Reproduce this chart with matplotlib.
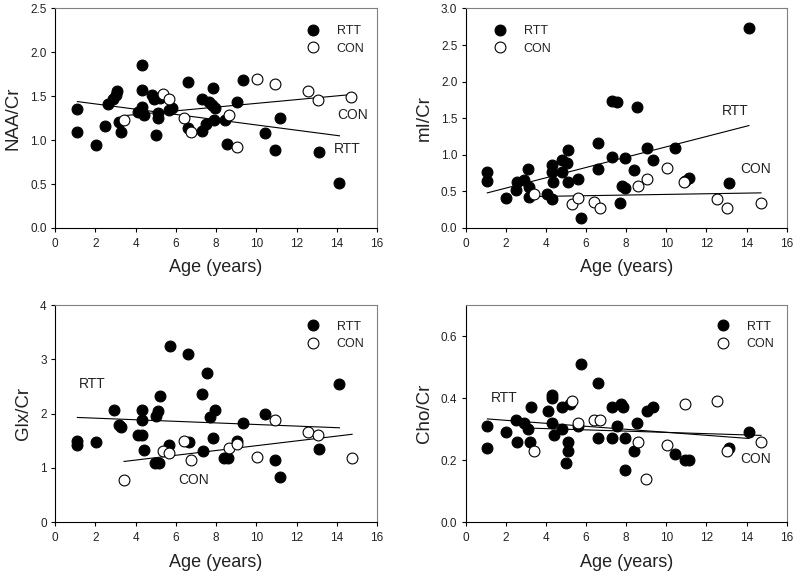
import numpy as np
import matplotlib
matplotlib.use("Agg")
import matplotlib.pyplot as plt

plt.rcParams['font.family'] = ['Liberation Sans', 'DejaVu Sans']

# ---- NAA/Cr ----
naa_rtt_x = [1.11, 1.11, 2.02, 2.5, 2.62, 2.9, 3.03, 3.1, 3.2, 3.27, 4.34, 4.3, 4.1, 4.34,
             4.43, 4.8, 4.9, 5.0, 5.14, 5.14, 5.22, 5.67, 5.8, 6.63, 6.63, 7.28, 7.31, 7.5,
             7.63, 7.8, 7.83, 7.96, 7.88, 8.46, 8.54, 9.04, 9.34, 10.45, 10.95, 11.16,
             13.13, 14.13]
naa_rtt_y = [1.35, 1.09, 0.95, 1.16, 1.41, 1.47, 1.52, 1.56, 1.21, 1.09, 1.86, 1.57, 1.32, 1.38,
             1.29, 1.52, 1.47, 1.06, 1.31, 1.25, 1.48, 1.34, 1.37, 1.66, 1.14, 1.47, 1.10, 1.19,
             1.44, 1.40, 1.60, 1.37, 1.23, 1.23, 0.96, 1.44, 1.68, 1.08, 0.89, 1.25,
             0.86, 0.51]
naa_con_x = [3.45, 5.34, 5.64, 6.43, 6.75, 8.62, 9.04, 10.03, 10.95, 12.55, 13.05, 14.73]
naa_con_y = [1.23, 1.53, 1.47, 1.25, 1.09, 1.29, 0.92, 1.70, 1.64, 1.56, 1.46, 1.49]
naa_rtt_fit = [1.44, 1.05]
naa_con_fit = [1.28, 1.52]

# ---- mI/Cr ----
mi_rtt_x = [1.08, 1.08, 1.99, 2.49, 2.57, 2.91, 3.09, 3.16, 3.16, 4.04, 4.29, 4.29, 4.37, 4.32,
            4.82, 4.82, 5.03, 5.12, 5.12, 5.62, 5.73, 6.61, 6.61, 7.31, 7.53, 7.31, 7.69, 7.78,
            7.94, 7.94, 8.52, 8.41, 9.02, 9.32, 10.43, 10.93, 11.15, 13.12, 14.12]
mi_rtt_y = [0.77, 0.64, 0.41, 0.52, 0.63, 0.65, 0.80, 0.56, 0.42, 0.46, 0.86, 0.77, 0.63, 0.39,
            0.93, 0.77, 0.89, 1.06, 0.63, 0.67, 0.13, 1.16, 0.81, 1.74, 1.72, 0.97, 0.34, 0.58,
            0.55, 0.95, 1.66, 0.79, 1.09, 0.93, 1.09, 0.64, 0.69, 0.62, 2.74]
mi_con_x = [3.42, 5.32, 5.62, 6.4, 6.7, 8.6, 9.02, 10.02, 10.9, 12.51, 13.04, 14.72]
mi_con_y = [0.46, 0.33, 0.41, 0.35, 0.28, 0.58, 0.67, 0.82, 0.63, 0.40, 0.28, 0.34]
mi_rtt_fit = [0.48, 1.40]
mi_con_fit = [0.43, 0.48]

# ---- Glx/Cr ----
glx_rtt_x = [1.11, 1.11, 2.02, 2.94, 3.18, 3.27, 4.1, 4.34, 4.3, 4.3, 4.43, 4.98, 5.17, 5.02,
             5.14, 5.22, 5.64, 5.72, 6.63, 6.67, 7.3, 7.33, 7.55, 7.71, 7.83, 7.93, 8.41,
             8.59, 9.04, 9.34, 10.45, 10.95, 11.16, 13.13, 14.13]
glx_rtt_y = [1.50, 1.42, 1.47, 2.07, 1.79, 1.76, 1.60, 1.60, 2.06, 1.88, 1.33, 1.10, 1.09, 1.96,
             2.04, 2.33, 1.42, 3.25, 3.09, 1.47, 2.36, 1.31, 2.74, 1.93, 1.56, 2.07, 1.19,
             1.19, 1.50, 1.82, 1.99, 1.15, 0.83, 1.35, 2.55]
glx_con_x = [3.43, 5.34, 5.64, 6.42, 6.75, 8.62, 9.04, 10.03, 10.95, 12.55, 13.05, 14.76]
glx_con_y = [0.77, 1.31, 1.27, 1.50, 1.15, 1.37, 1.44, 1.21, 1.88, 1.67, 1.60, 1.19]
glx_rtt_fit = [1.93, 1.74]
glx_con_fit = [1.12, 1.62]

# ---- Cho/Cr ----
cho_rtt_x = [1.08, 1.08, 1.99, 2.49, 2.57, 2.91, 3.09, 3.24, 3.21, 4.09, 4.32, 4.32, 4.32, 4.40,
             4.78, 4.82, 4.98, 5.12, 5.12, 5.2, 5.62, 5.73, 6.61, 6.61, 7.31, 7.31, 7.53, 7.73,
             7.83, 7.94, 7.94, 8.41, 8.52, 9.02, 9.35, 10.43, 10.93, 11.15, 13.12, 14.12]
cho_rtt_y = [0.31, 0.24, 0.29, 0.33, 0.26, 0.32, 0.30, 0.37, 0.26, 0.36, 0.41, 0.40, 0.32, 0.28,
             0.37, 0.30, 0.19, 0.26, 0.23, 0.38, 0.31, 0.51, 0.45, 0.27, 0.37, 0.27, 0.31, 0.38,
             0.37, 0.27, 0.17, 0.23, 0.32, 0.36, 0.37, 0.22, 0.20, 0.20, 0.24, 0.29]
cho_con_x = [3.41, 5.32, 5.62, 6.4, 6.7, 8.6, 8.99, 10.02, 10.93, 12.54, 13.04, 14.72]
cho_con_y = [0.23, 0.39, 0.32, 0.33, 0.33, 0.26, 0.14, 0.25, 0.38, 0.39, 0.23, 0.26]
cho_rtt_fit = [0.333, 0.27]
cho_con_fit = [0.303, 0.28]

xticks = [0, 2, 4, 6, 8, 10, 12, 14, 16]

panels = [
    dict(rect=[0.0688, 0.6028, 0.4025, 0.3824], ylabel="NAA/Cr", ylim=(0, 2.5),
         yticks=[0, 0.5, 1.0, 1.5, 2.0, 2.5], fmt="%.1f",
         rtt=(naa_rtt_x, naa_rtt_y), con=(naa_con_x, naa_con_y),
         rfit=naa_rtt_fit, cfit=naa_con_fit, leg=(0.782, 0.925),
         rtt_txt=(14.5, 0.90), con_txt=(14.8, 1.29)),
    dict(rect=[0.5821, 0.6028, 0.4012, 0.3824], ylabel="mI/Cr", ylim=(0, 3.0),
         yticks=[0, 0.5, 1.0, 1.5, 2.0, 2.5, 3.0], fmt="%.1f",
         rtt=(mi_rtt_x, mi_rtt_y), con=(mi_con_x, mi_con_y),
         rfit=mi_rtt_fit, cfit=mi_con_fit, leg=(0.087, 0.925),
         rtt_txt=(13.46, 1.60), con_txt=(14.47, 0.80)),
    dict(rect=[0.0688, 0.0901, 0.4025, 0.3785], ylabel="Glx/Cr", ylim=(0, 4),
         yticks=[0, 1, 2, 3, 4], fmt="%d",
         rtt=(glx_rtt_x, glx_rtt_y), con=(glx_con_x, glx_con_y),
         rfit=glx_rtt_fit, cfit=glx_con_fit, leg=(0.782, 0.928),
         rtt_txt=(1.87, 2.54), con_txt=(6.88, 0.77)),
    dict(rect=[0.5821, 0.0901, 0.4012, 0.3785], ylabel="Cho/Cr", ylim=(0, 0.7),
         yticks=[0, 0.2, 0.4, 0.6], fmt="%.1f",
         rtt=(cho_rtt_x, cho_rtt_y), con=(cho_con_x, cho_con_y),
         rfit=cho_rtt_fit, cfit=cho_con_fit, leg=(0.782, 0.928),
         rtt_txt=(1.91, 0.40), con_txt=(14.47, 0.205)),
]

fig = plt.figure(figsize=(8.0, 5.74), dpi=100, facecolor="white")

for p in panels:
    ax = fig.add_axes(p["rect"])
    rx, ry = p["rtt"]
    cx, cy = p["con"]
    # regression lines over each group's age range
    ax.plot([min(rx), max(rx)], p["rfit"], color="black", lw=0.8, zorder=2)
    ax.plot([min(cx), max(cx)], p["cfit"], color="black", lw=0.8, zorder=2)
    ax.plot(rx, ry, "o", ms=7.8, mfc="black", mec="black", mew=0.8, ls="none",
            label="RTT", zorder=3)
    ax.plot(cx, cy, "o", ms=7.8, mfc="white", mec="black", mew=0.8, ls="none",
            label="CON", zorder=4)

    ax.text(p["rtt_txt"][0], p["rtt_txt"][1], "RTT", fontsize=10, ha="center", va="center",
            color="#222222")
    ax.text(p["con_txt"][0], p["con_txt"][1], "CON", fontsize=10, ha="center", va="center",
            color="#222222")

    ax.set_xlim(0, 16)
    ax.set_ylim(*p["ylim"])
    ax.set_xticks(xticks)
    ax.set_yticks(p["yticks"])
    ax.set_yticklabels([p["fmt"] % v for v in p["yticks"]])
    ax.tick_params(direction="out", length=3, width=0.8, labelsize=8.5, pad=3,
                   labelcolor="#222222")
    ax.tick_params(axis="x", pad=4)
    ax.set_xlabel("Age (years)", fontsize=13, labelpad=7, color="#222222")
    ax.set_ylabel(p["ylabel"], fontsize=13.5, labelpad=6, color="#222222")
    for s in ["left", "bottom"]:
        ax.spines[s].set_color("black")
        ax.spines[s].set_linewidth(0.8)
    for s in ["top", "right"]:
        ax.spines[s].set_color("#808080")
        ax.spines[s].set_linewidth(0.8)

    leg = ax.legend(loc="upper left", bbox_to_anchor=p["leg"], frameon=False,
                    fontsize=9, handlelength=1.0, handletextpad=1.4, labelspacing=0.45,
                    borderpad=0, borderaxespad=0)
    for t in leg.get_texts():
        t.set_color("#222222")

fig.savefig("out.png", dpi=100, facecolor="white")
